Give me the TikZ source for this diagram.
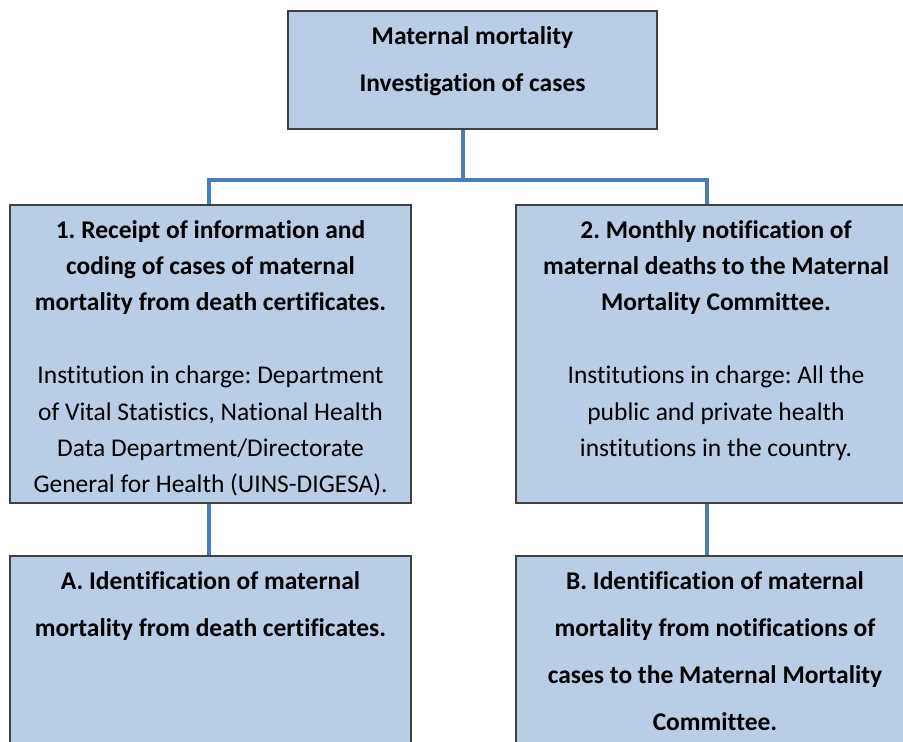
\documentclass[tikz,border=0pt]{standalone}
\usepackage{fontspec}
\setmainfont[RawFeature={-liga;-clig}]{Carlito}
\definecolor{boxfill}{HTML}{B9CDE5}
\definecolor{boxline}{HTML}{404040}
\definecolor{conn}{HTML}{4A7EBB}
\frenchspacing
\begin{document}
\begin{tikzpicture}[x=1pt,y=-1pt,
  box/.style={draw=boxline,line width=1.5pt,fill=boxfill,rectangle,inner sep=0pt},
  ln/.style={anchor=base,inner sep=0pt,font=\fontsize{25.5}{30}\selectfont},
  bl/.style={ln,font=\fontsize{25.5}{30}\selectfont\bfseries},
  wire/.style={draw=conn,line width=4pt}]
\useasboundingbox (0,0) rectangle (903,742);
\clip (0,0) rectangle (903,742);
% boxes
\node[box,minimum width=369pt,minimum height=118pt] (top) at (472.5,70) {};
\node[box,minimum width=401pt,minimum height=298pt] (b1) at (210.5,354) {};
\node[box,minimum width=400pt,minimum height=298pt] (b2) at (716,354) {};
\node[box,minimum width=401pt,minimum height=214pt] (bA) at (210.5,663) {};
\node[box,minimum width=400pt,minimum height=214pt] (bB) at (716,663) {};
% connector coordinates
\coordinate (hub) at (463,180);
\coordinate (jl) at (208.5,180);
\coordinate (jr) at (706.5,180);
\draw[wire] (hub |- top.south) -- (hub);
\draw[wire] (jl |- b1.north) -- (jl) -- (jr) -- (jr |- b2.north);
\draw[wire] (jl |- b1.south) -- (jl |- bA.north);
\draw[wire] (jr |- b2.south) -- (jr |- bB.north);
% top text
\node[bl] (t1) at (472.5,44) {Maternal mortality};
\node[bl] (t2) at (472.5,91) {Investigation of cases};
% left box
\node[bl] (l1) at (210.5,238) {1. Receipt of information and};
\node[bl] (l2) at (210.5,274) {coding of cases of maternal};
\node[bl] (l3) at (210.5,310) {mortality from death certificates.};
\node[ln] (l4) at (210.5,383) {Institution in charge: Department};
\node[ln] (l5) at (210.5,420) {of Vital Statistics, National Health};
\node[ln] (l6) at (210.5,456) {Data Department/Directorate};
\node[ln] (l7) at (210.5,492) {General for Health (UINS-DIGESA).};
% right box
\node[bl] (r1) at (716,238) {2. Monthly notification of};
\node[bl] (r2) at (716,274) {maternal deaths to the Maternal};
\node[bl] (r3) at (716,310) {Mortality Committee.};
\node[ln] (r4) at (716,383) {Institutions in charge: All the};
\node[ln] (r5) at (716,420) {public and private health};
\node[ln] (r6) at (716,456) {institutions in the country.};
% bottom left
\node[bl] (a1) at (210.5,589) {A. Identification of maternal};
\node[bl] (a2) at (210.5,636) {mortality from death certificates.};
% bottom right
\node[bl] (c1) at (715,589) {B. Identification of maternal};
\node[bl] (c2) at (715,636) {mortality from notifications of};
\node[bl] (c3) at (715,683) {cases to the Maternal Mortality};
\node[bl] (c4) at (715,730) {Committee.};
\end{tikzpicture}
\end{document}
